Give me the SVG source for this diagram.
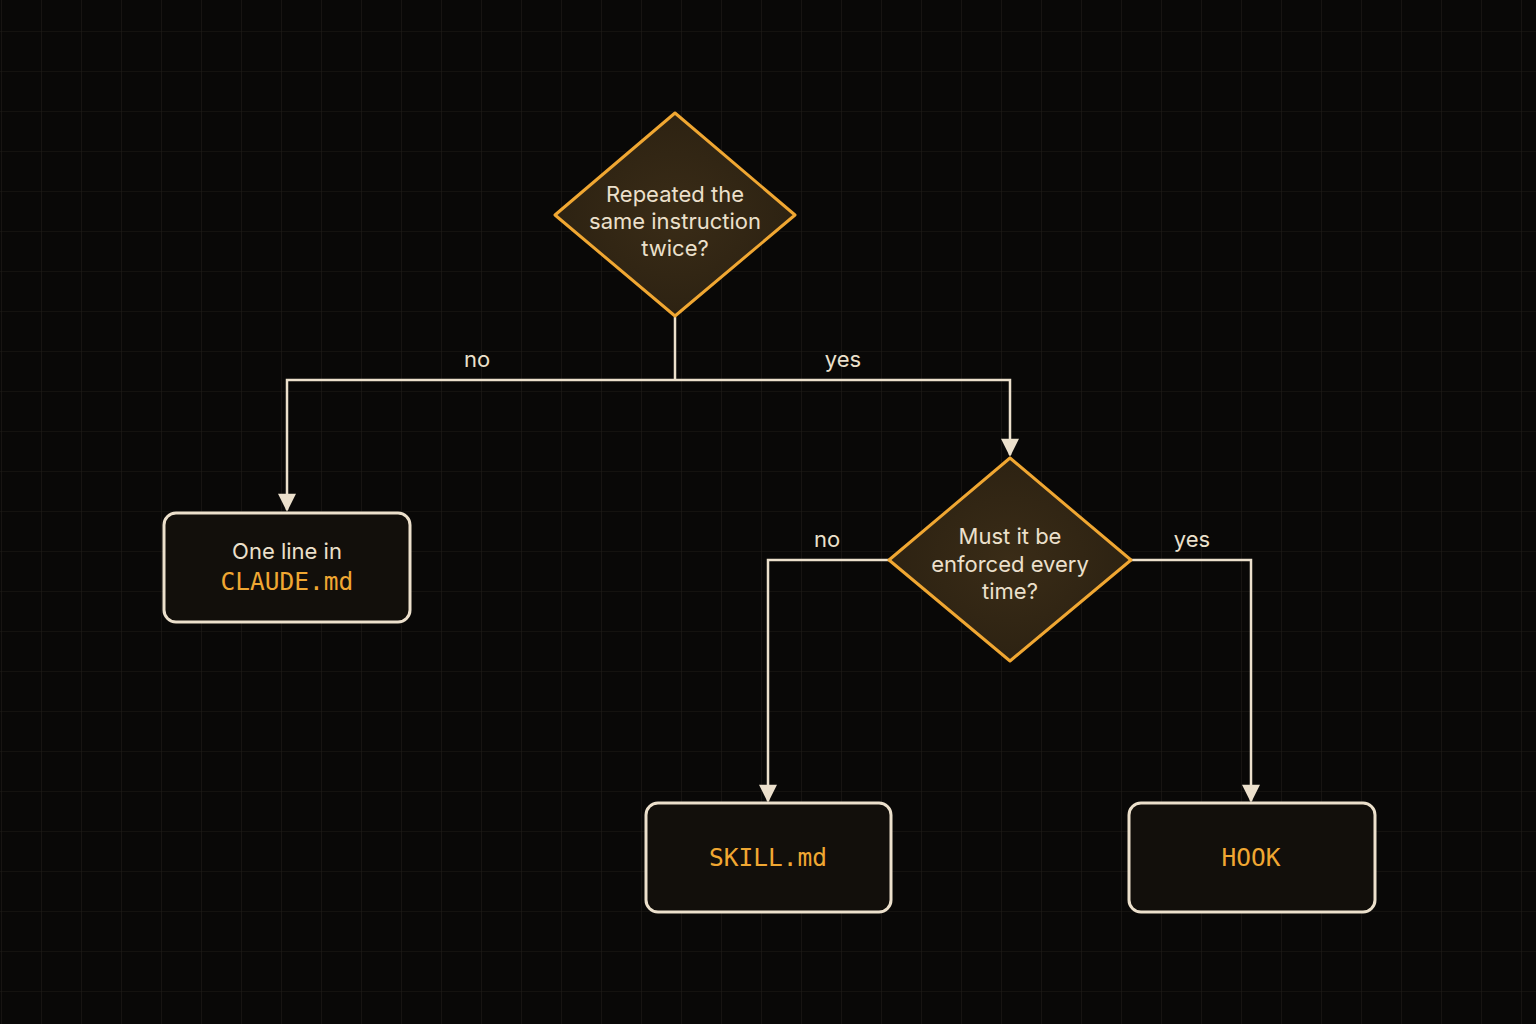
<svg xmlns="http://www.w3.org/2000/svg" width="1536" height="1024" viewBox="0 0 1536 1024">
<defs>
<pattern id="grid" width="40" height="40" patternUnits="userSpaceOnUse" x="2" y="-8">
<path d="M40 0V40H0" fill="none" stroke="#1f1c18" stroke-width="1.2"/>
</pattern>
<marker id="arr" viewBox="0 0 10 10" refX="9" refY="5" markerWidth="22" markerHeight="18" markerUnits="userSpaceOnUse" orient="auto">
<path d="M0 0L10 5L0 10Z" fill="#ece0cc"/>
</marker>
<radialGradient id="dg" cx="0.5" cy="0.5" r="0.6">
<stop offset="0" stop-color="#3a2c17"/><stop offset="1" stop-color="#2a2011"/>
</radialGradient>
</defs>
<style>
.dia{fill:url(#dg);stroke:#f0a732;stroke-width:3;stroke-linejoin:round}
.box{fill:#120f0b;stroke:#ece0cc;stroke-width:3}
.t{font-family:Inter,"Noto Sans",sans-serif;font-size:22px;fill:#ece0cc;text-anchor:middle}
.m{font-family:"DejaVu Sans Mono","Liberation Mono",monospace;font-size:24.5px;fill:#f0a732;text-anchor:middle}
.c{fill:none;stroke:#ece0cc;stroke-width:2.5}
</style>
<rect width="1536" height="1024" fill="#090807"/>
<rect width="1536" height="1024" fill="url(#grid)"/>
<g id="connectors">
<path class="c" d="M675 317V380"/>
<path class="c" d="M675 380H287V510" marker-end="url(#arr)"/>
<path class="c" d="M675 380H1010V455" marker-end="url(#arr)"/>
<path class="c" d="M889 560H768V801" marker-end="url(#arr)"/>
<path class="c" d="M1131 560H1251V801" marker-end="url(#arr)"/>
<text class="t" x="477" y="367">no</text>
<text class="t" x="843" y="367">yes</text>
<text class="t" x="827" y="547">no</text>
<text class="t" x="1192" y="547">yes</text>
</g>
<g id="q1">
<path class="dia" d="M675 113L795 215L675 316L555 215Z"/>
<text class="t" x="675" y="202">Repeated the</text>
<text class="t" x="675" y="229">same instruction</text>
<text class="t" x="675" y="256">twice?</text>
</g>
<g id="q2">
<path class="dia" d="M1010 458L1131 560L1010 661L889 560Z"/>
<text class="t" x="1010" y="544">Must it be</text>
<text class="t" x="1010" y="572">enforced every</text>
<text class="t" x="1010" y="599">time?</text>
</g>
<g id="claude">
<rect class="box" x="164" y="513" width="246" height="109" rx="12"/>
<text class="t" x="287" y="559">One line in</text>
<text class="m" x="287" y="590">CLAUDE.md</text>
</g>
<g id="skill">
<rect class="box" x="646" y="803" width="245" height="109" rx="12"/>
<text class="m" x="768" y="866">SKILL.md</text>
</g>
<g id="hook">
<rect class="box" x="1129" y="803" width="246" height="109" rx="12"/>
<text class="m" x="1251" y="866">HOOK</text>
</g>
</svg>
